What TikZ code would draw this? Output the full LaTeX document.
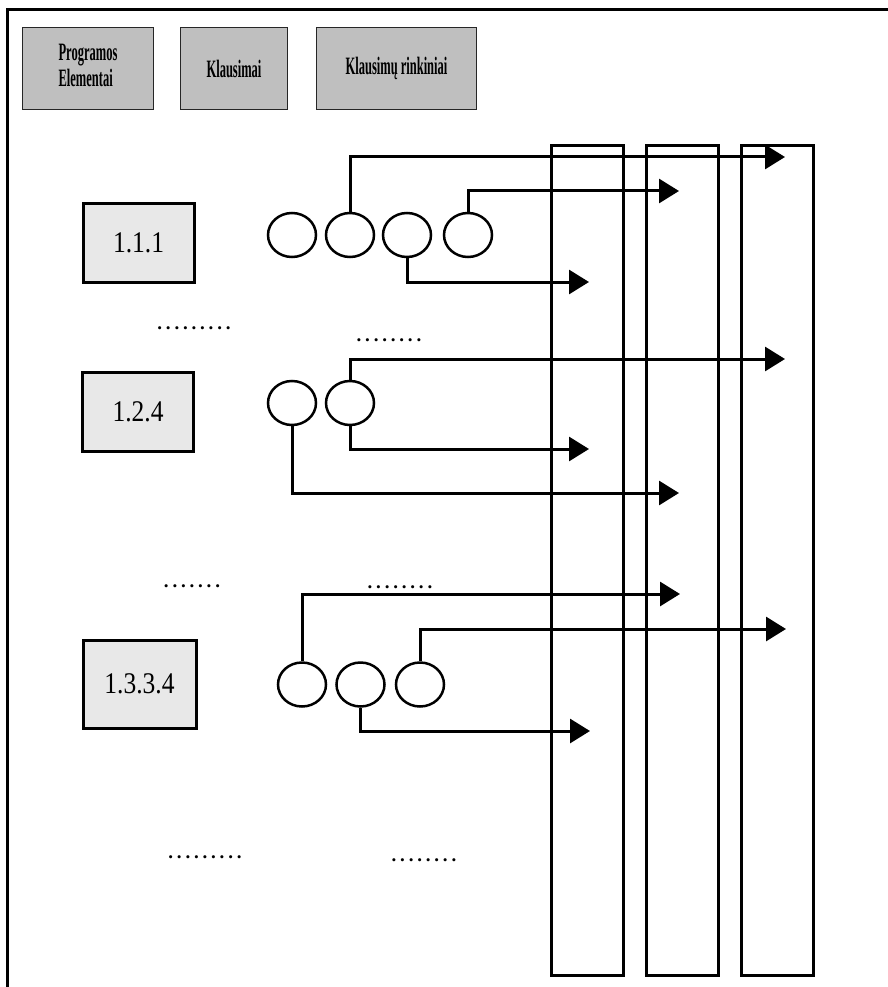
\documentclass[tikz,border=0pt]{standalone}
\usepackage{fontspec}
\setmainfont{Liberation Serif}
\usetikzlibrary{arrows.meta,shapes.geometric}

\begin{document}
\begin{tikzpicture}[x=1pt, y=-1pt,
    head/.style={draw=black!85, line width=1.5pt, fill=black!25, minimum height=82pt, inner sep=0pt, font=\fontsize{25}{26}\selectfont\bfseries},
    elem/.style={draw, line width=3pt, fill=black!9, minimum width=111pt, minimum height=79pt, inner sep=0pt, font=\fontsize{30}{31}\selectfont},
    quest/.style={ellipse, draw, line width=2.5pt, minimum width=48pt, minimum height=44pt, inner sep=0pt},
    set/.style={draw, line width=3pt, minimum width=72pt, minimum height=829pt, inner sep=0pt},
    link/.style={line width=3pt, -{Triangle[length=20pt, width=24pt]}},
    dots/.style={inner sep=0pt, font=\fontsize{19}{19}\selectfont\bfseries\addfontfeature{LetterSpace=20}}]
    \useasboundingbox (0,0) rectangle (888,987);

    % frame
    \draw[line width=3pt] (7,987) -- (7,10) -- (888,10);

    % headers
    \node[head, minimum width=131pt] (h1) at (88,68.5) {\scalebox{0.5}[1]{\begin{tabular}{@{}l@{}}Programos\\Elementai\end{tabular}}};
    \node[head, minimum width=107pt] (h2) at (234,68.5) {\scalebox{0.5}[1]{Klausimai}};
    \node[head, minimum width=160pt] (h3) at (396.5,68.5) {\scalebox{0.5}[1]{Klausimų rinkiniai}};

    % question sets
    \node[set] (s1) at (587,560.5) {};
    \node[set] (s2) at (682.5,560.5) {};
    \node[set] (s3) at (777,560.5) {};

    % program elements
    \node[elem] (p1) at (138.5,242.5) {\scalebox{0.85}[1]{1.1.1}};
    \node[elem] (p2) at (138,411.5) {\scalebox{0.85}[1]{1.2.4}};
    \node[elem, minimum width=113pt, minimum height=88pt] (p3) at (139.5,684) {\scalebox{0.85}[1]{1.3.3.4}};

    % questions
    \node[quest] (q11) at (292,235) {};
    \node[quest] (q12) at (350,235) {};
    \node[quest] (q13) at (407,235) {};
    \node[quest] (q14) at (468,235) {};
    \node[quest] (q21) at (292,403) {};
    \node[quest] (q22) at (350,403) {};
    \node[quest] (q31) at (302,684.5) {};
    \node[quest] (q32) at (360.5,684.5) {};
    \node[quest] (q33) at (420,684.5) {};

    % arrow tips in the sets
    \coordinate (t11) at (785,157);
    \coordinate (t12) at (679,191);
    \coordinate (t13) at (589,282);
    \coordinate (t21) at (785,359);
    \coordinate (t22) at (589,449);
    \coordinate (t23) at (679,493);
    \coordinate (t31) at (680,594);
    \coordinate (t32) at (786,629);
    \coordinate (t33) at (590,731);

    \draw[link] (q12.north) |- (t11);
    \draw[link] (q14.north) |- (t12);
    \draw[link] (q13.south) |- (t13);
    \draw[link] (q22.north) |- (t21);
    \draw[link] (q22.south) |- (t22);
    \draw[link] (q21.south) |- (t23);
    \draw[link] (q31.north) |- (t31);
    \draw[link] (q33.north) |- (t32);
    \draw[link] (q32.south) |- (t33);

    % omitted rows
    \node[dots] (d1) at (194,328) {.........};
    \node[dots] (d2) at (389,340) {........};
    \node[dots] (d3) at (192,586) {.......};
    \node[dots] (d4) at (400,587) {........};
    \node[dots] (d5) at (205,857) {.........};
    \node[dots] (d6) at (424,860) {........};
\end{tikzpicture}
\end{document}
